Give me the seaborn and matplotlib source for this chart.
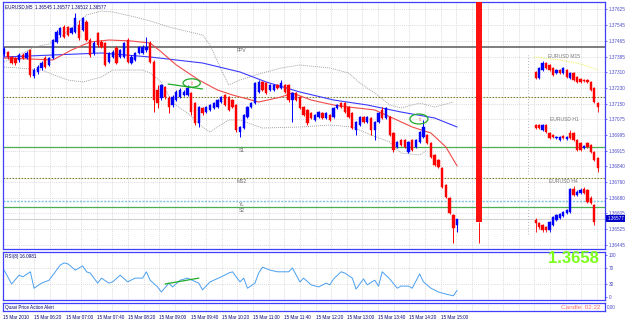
import numpy as np
import pandas as pd
import matplotlib
matplotlib.use("Agg")
import matplotlib.pyplot as plt
import matplotlib.transforms as mtransforms
from matplotlib.patches import Ellipse
import seaborn as sns

sns.set_theme(style="white")
plt.rcParams['font.family'] = ['Liberation Sans', 'DejaVu Sans']

# ---------------- data ----------------
opens = [1.37400, 1.37410, 1.37385, 1.37380, 1.37370, 1.37395, 1.37380, 1.37420, 1.37290, 1.37310,
         1.37330, 1.37380, 1.37345, 1.37380, 1.37460, 1.37495, 1.37535, 1.37535, 1.37505, 1.37510,
         1.37545, 1.37520, 1.37560, 1.37470, 1.37405, 1.37505, 1.37460, 1.37455, 1.37360, 1.37385,
         1.37430, 1.37385, 1.37385, 1.37470, 1.37355, 1.37370, 1.37405, 1.37405, 1.37420, 1.37455,
         1.37360, 1.37220, 1.37180, 1.37235, 1.37180, 1.37145, 1.37170, 1.37185, 1.37195, 1.37195,
         1.37205, 1.37155, 1.37055, 1.37130, 1.37110, 1.37120, 1.37130, 1.37135, 1.37160, 1.37195,
         1.37185, 1.37170, 1.37145, 1.37010, 1.37030, 1.37085, 1.37135, 1.37155, 1.37210, 1.37260,
         1.37255, 1.37220, 1.37220, 1.37245, 1.37230, 1.37245, 1.37245, 1.37170, 1.37205, 1.37185,
         1.37135, 1.37120, 1.37105, 1.37070, 1.37085, 1.37105, 1.37080, 1.37095, 1.37085, 1.37130,
         1.37155, 1.37155, 1.37135, 1.37105, 1.37020, 1.37045, 1.37085, 1.37060, 1.37080, 1.37020,
         1.37060, 1.37120, 1.37080, 1.37085, 1.37005, 1.36935, 1.36970, 1.36970, 1.36910, 1.36970,
         1.36935, 1.36960, 1.36985, 1.36995, 1.36955, 1.36895, 1.36870, 1.36830, 1.36745, 1.36680,
         1.36595, 1.36545]
highs = [1.37435, 1.37415, 1.37390, 1.37385, 1.37405, 1.37405, 1.37415, 1.37425, 1.37330, 1.37345,
         1.37365, 1.37390, 1.37385, 1.37475, 1.37520, 1.37535, 1.37545, 1.37540, 1.37535, 1.37605,
         1.37570, 1.37585, 1.37570, 1.37480, 1.37465, 1.37510, 1.37470, 1.37460, 1.37410, 1.37420,
         1.37440, 1.37425, 1.37460, 1.37480, 1.37395, 1.37410, 1.37440, 1.37445, 1.37485, 1.37465,
         1.37370, 1.37245, 1.37250, 1.37240, 1.37190, 1.37195, 1.37220, 1.37230, 1.37220, 1.37245,
         1.37210, 1.37160, 1.37140, 1.37135, 1.37140, 1.37150, 1.37160, 1.37175, 1.37190, 1.37200,
         1.37190, 1.37175, 1.37150, 1.37040, 1.37100, 1.37140, 1.37160, 1.37260, 1.37270, 1.37265,
         1.37260, 1.37250, 1.37250, 1.37250, 1.37270, 1.37250, 1.37250, 1.37210, 1.37210, 1.37190,
         1.37140, 1.37125, 1.37110, 1.37100, 1.37115, 1.37110, 1.37110, 1.37100, 1.37135, 1.37150,
         1.37160, 1.37160, 1.37140, 1.37110, 1.37065, 1.37090, 1.37090, 1.37090, 1.37085, 1.37065,
         1.37110, 1.37135, 1.37135, 1.37090, 1.37010, 1.36965, 1.36975, 1.36975, 1.36965, 1.36975,
         1.36975, 1.37015, 1.37070, 1.37000, 1.36960, 1.36900, 1.36875, 1.36835, 1.36750, 1.36685,
         1.36600, 1.36577]
lows = [1.37390, 1.37375, 1.37350, 1.37345, 1.37360, 1.37375, 1.37375, 1.37285, 1.37280, 1.37300,
        1.37320, 1.37330, 1.37340, 1.37375, 1.37455, 1.37485, 1.37480, 1.37490, 1.37500, 1.37505,
        1.37470, 1.37515, 1.37465, 1.37385, 1.37395, 1.37435, 1.37430, 1.37340, 1.37355, 1.37380,
        1.37350, 1.37380, 1.37380, 1.37355, 1.37350, 1.37365, 1.37400, 1.37400, 1.37410, 1.37355,
        1.37110, 1.37130, 1.37170, 1.37175, 1.37105, 1.37135, 1.37165, 1.37180, 1.37190, 1.37190,
        1.37095, 1.37045, 1.37035, 1.37095, 1.37105, 1.37115, 1.37125, 1.37130, 1.37155, 1.37140,
        1.37115, 1.37130, 1.37010, 1.36985, 1.37025, 1.37080, 1.37130, 1.37150, 1.37205, 1.37215,
        1.37200, 1.37215, 1.37215, 1.37225, 1.37225, 1.37205, 1.37160, 1.37060, 1.37165, 1.37125,
        1.37090, 1.37045, 1.37075, 1.37065, 1.37080, 1.37075, 1.37075, 1.37065, 1.37080, 1.37125,
        1.37130, 1.37105, 1.37080, 1.37025, 1.36995, 1.37040, 1.37055, 1.37055, 1.36995, 1.36970,
        1.37055, 1.37075, 1.37075, 1.36990, 1.36910, 1.36930, 1.36940, 1.36930, 1.36905, 1.36915,
        1.36930, 1.36955, 1.36980, 1.36950, 1.36880, 1.36840, 1.36830, 1.36730, 1.36680, 1.36600,
        1.36455, 1.36512]
closes = [1.37425, 1.37385, 1.37355, 1.37355, 1.37395, 1.37380, 1.37405, 1.37295, 1.37320, 1.37335,
          1.37355, 1.37335, 1.37380, 1.37470, 1.37510, 1.37530, 1.37485, 1.37495, 1.37530, 1.37580,
          1.37480, 1.37580, 1.37470, 1.37395, 1.37455, 1.37445, 1.37435, 1.37345, 1.37405, 1.37410,
          1.37355, 1.37420, 1.37455, 1.37360, 1.37385, 1.37405, 1.37435, 1.37435, 1.37435, 1.37360,
          1.37170, 1.37155, 1.37245, 1.37185, 1.37135, 1.37185, 1.37210, 1.37220, 1.37210, 1.37230,
          1.37110, 1.37055, 1.37135, 1.37105, 1.37135, 1.37145, 1.37155, 1.37170, 1.37185, 1.37145,
          1.37120, 1.37135, 1.37020, 1.37035, 1.37095, 1.37135, 1.37155, 1.37255, 1.37260, 1.37220,
          1.37205, 1.37245, 1.37245, 1.37230, 1.37255, 1.37210, 1.37170, 1.37205, 1.37170, 1.37130,
          1.37095, 1.37055, 1.37080, 1.37095, 1.37110, 1.37080, 1.37105, 1.37070, 1.37130, 1.37145,
          1.37135, 1.37110, 1.37085, 1.37030, 1.37060, 1.37085, 1.37060, 1.37085, 1.37020, 1.37060,
          1.37105, 1.37080, 1.37130, 1.36995, 1.36920, 1.36960, 1.36945, 1.36935, 1.36960, 1.36920,
          1.36970, 1.37010, 1.37035, 1.36955, 1.36885, 1.36845, 1.36835, 1.36735, 1.36685, 1.36605,
          1.36530, 1.36577]

# moving averages / envelope (bar index, price)
red_ma_idx = [0, 7, 13, 18, 23, 28, 34, 39, 42, 46, 52, 57, 61, 68, 74, 77, 82, 88, 92, 99, 102, 109, 114, 118, 121]
red_ma = [1.37380, 1.37375, 1.37370, 1.37420, 1.37460, 1.37470, 1.37465, 1.37455, 1.37410, 1.37345,
          1.37270, 1.37220, 1.37195, 1.37160, 1.37185, 1.37205, 1.37170, 1.37145, 1.37135, 1.37120,
          1.37095, 1.37035, 1.37005, 1.36935, 1.36840]
blue_ma_idx = [0, 13, 26, 39, 53, 63, 70, 79, 88, 97, 106, 115, 121]
blue_ma = [1.37385, 1.37395, 1.37405, 1.37385, 1.37355, 1.37310, 1.37260, 1.37210, 1.37170, 1.37145,
           1.37110, 1.37080, 1.37035]
upper_idx = [0, 4, 8, 12, 15, 19, 22, 26, 29, 35, 39, 44, 53, 55, 58, 60, 63, 69, 74, 79, 87, 92, 95, 99, 103, 106, 111, 115, 120]
upper_band = [1.37360, 1.37395, 1.37435, 1.37450, 1.37485, 1.37545, 1.37595, 1.37615, 1.37610, 1.37585,
              1.37565, 1.37535, 1.37495, 1.37445, 1.37320, 1.37245, 1.37270, 1.37305, 1.37330, 1.37345,
              1.37330, 1.37305, 1.37255, 1.37205, 1.37145, 1.37130, 1.37155, 1.37135, 1.37160]
lower_idx = [0, 4, 10, 14, 17, 21, 26, 29, 37, 39, 42, 45, 49, 53, 55, 57, 60, 63, 69, 79, 87, 93, 98, 103, 106, 111, 113]
lower_band = [1.37335, 1.37330, 1.37320, 1.37290, 1.37270, 1.37260, 1.37285, 1.37320, 1.37320, 1.37305,
              1.37260, 1.37155, 1.37105, 1.37035, 1.37010, 1.37035, 1.37070, 1.37070, 1.37030, 1.37035,
              1.37045, 1.37035, 1.36995, 1.36960, 1.36905, 1.36895, 1.36920]

# horizontal levels
level_names = ["FPV", "S1", "MS2", "YL", "S2"]
level_prices = [1.37433, 1.36935, 1.36780, 1.36665, 1.36635]
pivot_dotted = 1.37185
last_price = 1.36577

# mini charts (open, high, low, close)
m15_o = [1.37310, 1.37280, 1.37320, 1.37355, 1.37345, 1.37330, 1.37305, 1.37320, 1.37305, 1.37320,
         1.37280, 1.37305, 1.37285, 1.37275, 1.37270, 1.37270, 1.37260, 1.37230, 1.37155]
m15_h = [1.37315, 1.37335, 1.37365, 1.37360, 1.37350, 1.37335, 1.37325, 1.37325, 1.37335, 1.37325,
         1.37310, 1.37310, 1.37290, 1.37280, 1.37275, 1.37275, 1.37265, 1.37235, 1.37160]
m15_l = [1.37275, 1.37275, 1.37315, 1.37325, 1.37315, 1.37290, 1.37300, 1.37300, 1.37300, 1.37280,
         1.37275, 1.37265, 1.37255, 1.37255, 1.37260, 1.37255, 1.37215, 1.37155, 1.37110]
m15_c = [1.37280, 1.37330, 1.37355, 1.37330, 1.37320, 1.37295, 1.37320, 1.37305, 1.37330, 1.37285,
         1.37305, 1.37270, 1.37260, 1.37260, 1.37265, 1.37260, 1.37220, 1.37160, 1.37135]
m15_ma = [1.37385, 1.37370, 1.37350, 1.37320]
h1_o = [1.37045, 1.37045, 1.37020, 1.37045, 1.37005, 1.36995, 1.36980, 1.36970, 1.36990, 1.36975,
        1.37005, 1.37005, 1.36970, 1.36955, 1.36930, 1.36955, 1.36945, 1.36910, 1.36880]
h1_h = [1.37050, 1.37050, 1.37050, 1.37050, 1.37010, 1.37000, 1.36990, 1.36990, 1.36995, 1.36990,
        1.37020, 1.37010, 1.36975, 1.36960, 1.36945, 1.36960, 1.36950, 1.36915, 1.36885]
h1_l = [1.37025, 1.37025, 1.37015, 1.37005, 1.36975, 1.36980, 1.36975, 1.36965, 1.36975, 1.36970,
        1.36975, 1.36965, 1.36915, 1.36915, 1.36925, 1.36930, 1.36905, 1.36865, 1.36810]
h1_c = [1.37030, 1.37030, 1.37045, 1.37010, 1.36980, 1.36985, 1.36985, 1.36985, 1.36980, 1.36985,
        1.36980, 1.36970, 1.36920, 1.36920, 1.36940, 1.36935, 1.36910, 1.36870, 1.36830]
h4_o = [1.36570, 1.36555, 1.36545, 1.36535, 1.36520, 1.36545, 1.36570, 1.36580, 1.36590, 1.36605,
        1.36610, 1.36725, 1.36695, 1.36705, 1.36725, 1.36720, 1.36680, 1.36645]
h4_h = [1.36580, 1.36560, 1.36550, 1.36540, 1.36565, 1.36590, 1.36600, 1.36605, 1.36615, 1.36625,
        1.36730, 1.36740, 1.36720, 1.36730, 1.36735, 1.36725, 1.36690, 1.36650]
h4_l = [1.36510, 1.36525, 1.36510, 1.36510, 1.36510, 1.36540, 1.36565, 1.36575, 1.36585, 1.36600,
        1.36605, 1.36690, 1.36690, 1.36700, 1.36700, 1.36655, 1.36650, 1.36545]
h4_c = [1.36555, 1.36535, 1.36520, 1.36520, 1.36560, 1.36585, 1.36595, 1.36600, 1.36610, 1.36620,
        1.36725, 1.36695, 1.36710, 1.36720, 1.36705, 1.36660, 1.36655, 1.36560]
mini_titles = ["EURUSD M15", "EURUSD H1", "EURUSD H4"]

# RSI(8)
rsi_idx = [0, 2, 4, 5, 7, 8, 10, 12, 13, 15, 16, 17, 19, 21, 22, 23, 25, 26, 28, 29,
           31, 33, 35, 37, 38, 39, 41, 42, 44, 45, 47, 49, 52, 53, 55, 56, 58, 60, 61, 63,
           64, 65, 67, 68, 69, 71, 73, 76, 77, 79, 80, 82, 84, 86, 87, 88, 90, 91, 93, 94,
           96, 97, 99, 100, 101, 103, 105, 106, 108, 109, 111, 112, 114, 116, 118, 120, 121]
rsi_vals = [64, 31, 52, 48, 60, 21, 33, 40, 52, 76, 81, 79, 64, 74, 60, 57, 33, 45, 33, 36,
            52, 36, 45, 45, 60, 40, 24, 12, 33, 24, 40, 45, 33, 17, 36, 40, 48, 57, 60, 36,
            45, 21, 33, 57, 71, 64, 60, 60, 69, 36, 45, 29, 24, 33, 29, 43, 60, 57, 45, 19,
            43, 29, 40, 26, 60, 43, 21, 26, 26, 21, 55, 36, 21, 12, 7, 3, 16.0981]
rsi_trend_idx = [43, 52]
rsi_trend_vals = [31, 45]

time_labels = ["15 Mar 2010", "15 Mar 06:20", "15 Mar 07:00", "15 Mar 07:40", "15 Mar 08:20",
               "15 Mar 09:00", "15 Mar 09:40", "15 Mar 10:20", "15 Mar 11:00", "15 Mar 11:40",
               "15 Mar 12:20", "15 Mar 13:00", "15 Mar 13:40", "15 Mar 14:20", "15 Mar 15:00"]
price_ticks = [1.37625, 1.37545, 1.37465, 1.37385, 1.37310, 1.37230, 1.37150, 1.37075,
               1.36995, 1.36915, 1.36840, 1.36760, 1.36680, 1.36605, 1.36525, 1.36445]
rsi_ticks = [100, 70, 30, 0]

# ---------------- style ----------------
W, H = 625, 320
FRAME = '#3f3fff'
TXT = '#000070'
AXT = '#4848c8'
UP, DN = '#0000ff', '#ff0000'
GRID = '#c9c9c9'
FS = 3.3

fig = plt.figure(figsize=(W / 100, H / 100), dpi=100)
fig.patch.set_facecolor('white')


def rect(l, t, r, b):
    return [l / W, 1 - b / H, (r - l) / W, (b - t) / H]


ax = fig.add_axes(rect(3, 2, 605, 249))
axr = fig.add_axes(rect(3, 252, 605, 300))
axa = fig.add_axes(rect(3, 303, 605, 311))

XL = (-0.3, 160.5)
STEP = 8.35
for a in (ax, axr, axa):
    a.set_xlim(*XL)
    a.set_facecolor('white')
    for s in a.spines.values():
        s.set_color(FRAME)
        s.set_linewidth(0.9)
    a.tick_params(axis='both', which='both', length=0, labelsize=FS, colors=AXT, pad=1.5)
    a.set_xticks([])
    vg = np.arange(0, 40) * STEP / 2 + XL[0]
    for v in vg:
        if XL[0] < v < XL[1]:
            a.axvline(v, color=GRID, lw=0.5, ls=(0, (1.2, 1.6)), zorder=0)

ax.set_ylim(1.36425, 1.37660)
axr.set_ylim(-7, 107)
axa.set_ylim(0, 1)


def candles(a, x, o, h, l, c, width, lw=0.7):
    x = np.asarray(x, float)
    o, h, l, c = map(np.asarray, (o, h, l, c))
    cols = np.where(c >= o, UP, DN)
    a.vlines(x, l, h, colors=cols, lw=lw, zorder=3)
    bottom = np.minimum(o, c)
    height = np.maximum(np.abs(c - o), 0.00003)
    a.bar(x, height, bottom=bottom, width=width, color=cols, edgecolor=cols, lw=0.3, zorder=4)


# grid (horizontal)
for p in price_ticks:
    ax.axhline(p, color=GRID, lw=0.5, ls=(0, (1.2, 1.6)), zorder=0)

# levels
ax.axhline(level_prices[0], color='#5a5a5a', lw=1.1, zorder=1)
ax.axhline(level_prices[1], color='#4caf50', lw=0.9, zorder=1)
ax.axhline(level_prices[2], color='#808030', lw=0.8, ls=(0, (1.5, 1.2)), zorder=1)
ax.axhline(level_prices[3], color='#7fc4dc', lw=1.0, ls=(0, (1.5, 1.0)), zorder=1)
ax.axhline(level_prices[4], color='#4caf50', lw=0.9, zorder=1)
ax.axhline(pivot_dotted, color='#808030', lw=0.8, ls=(0, (1.5, 1.2)), zorder=1)
ax.axhline(last_price, color='#d0d0d0', lw=0.8, zorder=1)
for name, p in zip(level_names, level_prices):
    ax.text(63.5, p - 0.00003, name, fontsize=3.6, color='#6a6a6a', ha='center', va='top', zorder=5)

# envelope and MAs
sns.lineplot(x=upper_idx, y=upper_band, ax=ax, color='#9a9a9a', lw=0.6, ls=(0, (1.2, 1.2)), zorder=2)
sns.lineplot(x=lower_idx, y=lower_band, ax=ax, color='#9a9a9a', lw=0.6, ls=(0, (1.2, 1.2)), zorder=2)
sns.lineplot(x=blue_ma_idx, y=blue_ma, ax=ax, color='#3b3bff', lw=0.8, zorder=2)
sns.lineplot(x=red_ma_idx, y=red_ma, ax=ax, color='#f04a4a', lw=0.8, zorder=2)

# main candles
idx = np.arange(len(opens))
candles(ax, idx, opens, highs, lows, closes, 0.62)

# big candle timer bar
bar_x = 126.8
ax.vlines(bar_x, 1.36560, 1.37700, color='#ff1010', lw=4.3, zorder=4)
ax.vlines(bar_x, 1.36455, 1.36560, color='#ff1010', lw=0.7, zorder=4)

# mini charts
mstep = 0.92
for k, (o, h, l, c) in enumerate([(m15_o, m15_h, m15_l, m15_c), (h1_o, h1_h, h1_l, h1_c), (h4_o, h4_h, h4_l, h4_c)]):
    mx = 142 + np.arange(len(o)) * mstep
    candles(ax, mx, o, h, l, c, 0.62, lw=0.6)
    ax.vlines(139.9, min(l) - 0.0001, max(h) + 0.0003, color='#9a9a9a', lw=0.6, ls=(0, (1, 2.5)), zorder=2)
    ax.text(149.5, max(h) + 0.00012, mini_titles[k], fontsize=3.6, color='#7a7a7a', ha='center', va='bottom', zorder=5)
sns.lineplot(x=[141.5, 148.5, 154, 158.7], y=m15_ma, ax=ax, color='#f0f060', lw=0.7, ls=(0, (1.2, 1.2)), zorder=2)

# ellipses / alert marks
for (ex, ey, ew, eh) in [(50.1, 1.37255, 4.6, 0.00042), (110.8, 1.37075, 4.8, 0.00050)]:
    ax.add_patch(Ellipse((ex, ey), ew, eh, fill=False, edgecolor='#1faa2a', lw=0.9, zorder=6))
    ax.text(ex, ey, '\u21e7', fontsize=3.5, color='#ff5050', ha='center', va='center', zorder=6,
            family=['DejaVu Sans'])
sns.lineplot(x=[43.8, 53.0], y=[1.37250, 1.37225], ax=ax, color='#1faa2a', lw=0.9, zorder=6)

# price axis
ax.yaxis.tick_right()
ax.set_yticks(price_ticks)
ax.set_yticklabels([f"{p:.5f}" for p in price_ticks])
ax.tick_params(axis='y', length=1.5, width=0.5, color=FRAME, pad=1.2)
trans = mtransforms.blended_transform_factory(ax.transAxes, ax.transData)
ax.text(1.004, last_price, f"{last_price:.5f}", transform=trans, fontsize=FS, color='white',
        ha='left', va='center', zorder=7,
        bbox=dict(boxstyle='square,pad=0.25', facecolor='#0000c8', edgecolor='none'))
ax.text(0.004, 0.992, "EURUSD,M5  1.36545 1.36577 1.36512 1.36577", transform=ax.transAxes,
        fontsize=FS, color=TXT, ha='left', va='top', zorder=7)

# RSI panel
for lv in (70, 30):
    axr.axhline(lv, color=GRID, lw=0.5, ls=(0, (1.2, 1.6)), zorder=0)
sns.lineplot(x=rsi_idx, y=rsi_vals, ax=axr, color='#4a9ff0', lw=0.7, zorder=3)
sns.lineplot(x=rsi_trend_idx, y=rsi_trend_vals, ax=axr, color='#1faa2a', lw=0.9, zorder=4)
axr.yaxis.tick_right()
axr.set_yticks(rsi_ticks)
axr.set_yticklabels([str(v) for v in rsi_ticks])
axr.tick_params(axis='y', length=1.5, width=0.5, color=FRAME, pad=1.2)
axr.text(0.004, 0.95, f"RSI(8) {rsi_vals[-1]:.4f}", transform=axr.transAxes, fontsize=FS,
         color=TXT, ha='left', va='top')
axr.text(0.990, 0.86, "1.3658", transform=axr.transAxes, fontsize=12, weight='bold',
         color='#7cff1c', ha='right', va='center')
axr.set_xlabel(''); axr.set_ylabel('')
ax.set_xlabel(''); ax.set_ylabel('')

# alert panel
axa.set_yticks([0.5])
axa.set_yticklabels(['0.00'])
axa.yaxis.tick_right()
axa.tick_params(axis='y', length=0, pad=1.2)
axa.text(0.004, 0.5, "Quasi Price Action Alert", transform=axa.transAxes, fontsize=FS,
         color=TXT, ha='left', va='center')
axa.text(0.992, 0.45, "Candle: 02:22", transform=axa.transAxes, fontsize=4.6,
         color='#ff7070', ha='right', va='center')
tick_pos = np.arange(len(time_labels)) * STEP + XL[0]
axa.set_xticks(tick_pos)
axa.set_xticklabels(time_labels)
axa.tick_params(axis='x', length=2, width=0.5, color=TXT, labelsize=FS, colors=TXT, pad=0.8)
for t in axa.get_xticklabels():
    t.set_ha('left')

fig.savefig('out.png', dpi=100, facecolor='white')
